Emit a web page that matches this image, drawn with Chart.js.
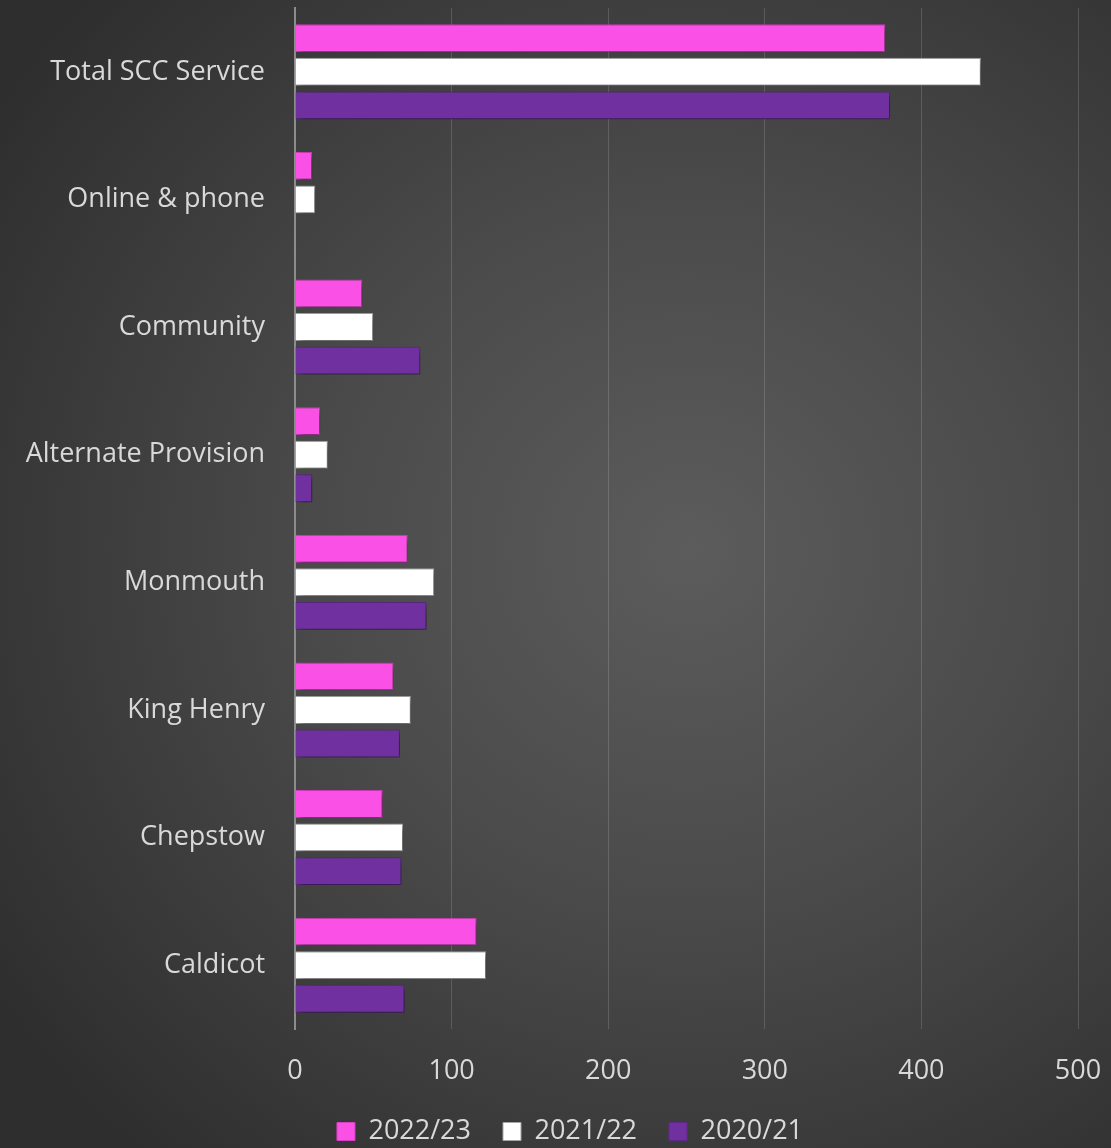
<!DOCTYPE html>
<html>
<head>
<meta charset="utf-8">
<script src="https://cdn.jsdelivr.net/npm/chart.js@4"></script>
<style>
  html, body { margin: 0; padding: 0; }
  body {
    width: 1111px; height: 1148px; overflow: hidden;
    background: radial-gradient(ellipse 75% 70% at 62% 48%, #5c5c5c 0%, #4a4a4a 45%, #2e2e2e 100%);
  }
  #wrap { position: relative; width: 1111px; height: 1148px; }
</style>
</head>
<body>
<div id="wrap"><canvas id="barChart"></canvas></div>
<script>
const categories = ['Total SCC Service', 'Online & phone', 'Community', 'Alternate Provision', 'Monmouth', 'King Henry', 'Chepstow', 'Caldicot'];
const seriesNames = ['2022/23', '2021/22', '2020/21'];
const values2223 = [377, 11, 43, 16, 72, 63, 56, 116];
const values2122 = [438, 13, 50, 21, 89, 74, 69, 122];
const values2021 = [380, 0, 80, 11, 84, 67, 68, 70];
const xTicks = [0, 100, 200, 300, 400, 500];

const labelColor = '#d9d9d9';
const fontFamily = '"Open Sans", Lato, sans-serif';

// soft drop shadow under the bars
const barShadow = {
    id: 'barShadow',
    beforeDatasetsDraw(chart) {
        const ctx = chart.ctx;
        ctx.save();
        ctx.shadowColor = 'rgba(0,0,0,0.5)';
        ctx.shadowBlur = 7;
        ctx.shadowOffsetX = 3;
        ctx.shadowOffsetY = 3;
    },
    afterDatasetsDraw(chart) {
        chart.ctx.restore();
    }
};

// legend row sits a little right of centre in the original
const legendShift = {
    id: 'legendShift',
    afterLayout(chart) {
        if (chart.legend) chart.legend.left += 62;
    }
};

new Chart("barChart", {
    type: "bar",
    data: {
        labels: categories,
        datasets: [{
            label: seriesNames[0],
            backgroundColor: "#fb50e6",
            borderColor: "#d63fc4",
            borderWidth: 1,
            data: values2223
        }, {
            label: seriesNames[1],
            backgroundColor: "#ffffff",
            borderColor: "#a6a6a6",
            borderWidth: 1,
            data: values2122
        }, {
            label: seriesNames[2],
            backgroundColor: "#7030a0",
            borderColor: "#5e2888",
            borderWidth: 1,
            data: values2021
        }]
    },
    options: {
        indexAxis: 'y',
        responsive: true,
        maintainAspectRatio: false,
        animation: false,
        layout: {
            padding: { top: 8, right: 33, left: 0, bottom: 0 }
        },
        datasets: {
            bar: {
                categoryPercentage: 0.79,
                barPercentage: 0.83
            }
        },
        scales: {
            x: {
                min: 0,
                max: 500,
                afterBuildTicks: (scale) => {
                    scale.ticks = xTicks.map(v => ({ value: v }));
                },
                afterFit: (scale) => {
                    scale.height = 57;
                    scale.paddingLeft = 0;
                    scale.paddingRight = 0;
                },
                grid: {
                    color: 'rgba(255,255,255,0.15)',
                    lineWidth: 1,
                    drawTicks: false
                },
                border: { display: false },
                ticks: {
                    color: labelColor,
                    padding: 26,
                    font: { family: fontFamily, size: 27 }
                }
            },
            y: {
                afterFit: (scale) => {
                    scale.width = 295;
                    scale.paddingTop = 0;
                    scale.paddingBottom = 0;
                },
                grid: { display: false, drawTicks: false },
                border: { display: true, color: '#8c8c8c', width: 2 },
                ticks: {
                    color: labelColor,
                    padding: 30,
                    font: { family: fontFamily, size: 27 }
                }
            }
        },
        plugins: {
            legend: {
                position: 'bottom',
                maxHeight: 62,
                labels: {
                    color: labelColor,
                    boxWidth: 18,
                    boxHeight: 18,
                    padding: 32,
                    font: { family: fontFamily, size: 27 },
                    useBorderRadius: false
                }
            },
            tooltip: { enabled: false }
        }
    },
    plugins: [barShadow, legendShift]
});
</script>
</body>
</html>
